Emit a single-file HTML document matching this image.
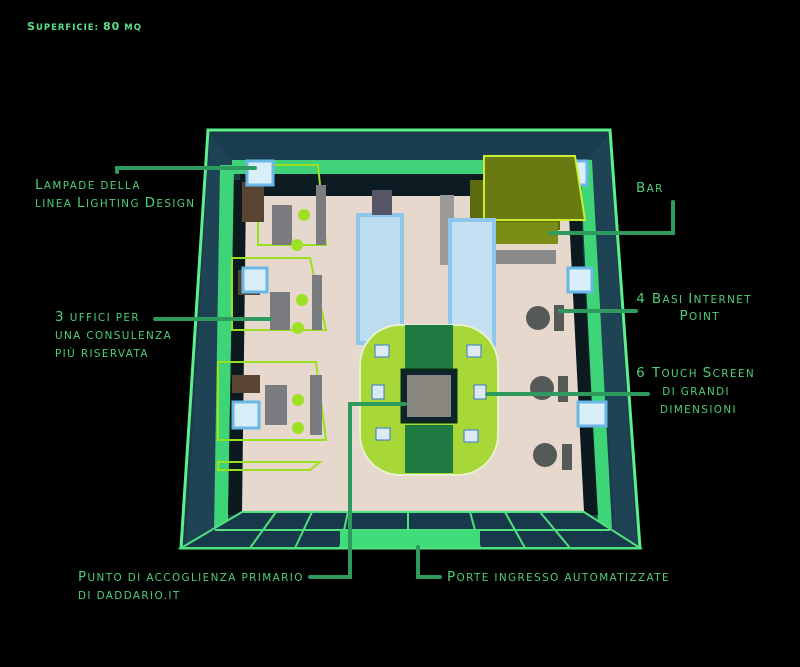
<!DOCTYPE html>
<html><head><meta charset="utf-8"><style>
html,body{margin:0;padding:0;background:#000;}
svg{display:block}
.t{font-family:"DejaVu Sans","Liberation Sans",sans-serif;fill:#4fcf78;font-size:10.4px;letter-spacing:1.4px}
.t .c{font-size:13.5px}
</style></head><body>
<svg width="800" height="667" viewBox="0 0 800 667" xmlns="http://www.w3.org/2000/svg">
<rect width="800" height="667" fill="#000"/>
<text x="27" y="30" class="t" style="font-weight:bold;font-size:8.5px;fill:#5be08a;letter-spacing:1px"><tspan style="font-size:11px">S</tspan>UPERFICIE: <tspan style="font-size:11px">80</tspan> MQ</text>

<polygon points="208,130 610,130 640,548 181,548" fill="#1c3a48" stroke="#5cf08a" stroke-width="3"/>
<polygon points="212,134 606,134 588,160 232,160" fill="#1a3e50"/>
<rect x="232" y="160" width="356" height="14" fill="#3fd27a"/>
<rect x="240" y="174" width="338" height="22" fill="#0d1c22"/>
<polygon points="210,134 232,160 222,530 186,546" fill="#1d4355"/>
<polygon points="220,165 234,165 228,525 214,530" fill="#3ed478"/>
<polygon points="234,180 246,180 242,515 228,515" fill="#0c1a20"/>
<polygon points="608,134 588,160 615,530 637,546" fill="#1d4355"/>
<polygon points="580,160 592,160 612,528 598,528" fill="#3ed478"/>
<polygon points="568,196 580,196 598,515 584,515" fill="#0c1a20"/>
<polygon points="246,196 568,196 584,512 242,512" fill="#e6d8cc"/>
<polygon points="242,512 584,512 640,548 181,548" fill="#17394a" stroke="#4fe080" stroke-width="2"/>
<g stroke="#4fe080" stroke-width="2">
<line x1="215" y1="530" x2="610" y2="530"/>
<line x1="276" y1="512" x2="250" y2="548"/><line x1="312" y1="512" x2="295" y2="548"/>
<line x1="348" y1="512" x2="340" y2="548"/><line x1="408" y1="512" x2="408" y2="530"/>
<line x1="470" y1="512" x2="480" y2="548"/><line x1="505" y1="512" x2="525" y2="548"/>
<line x1="540" y1="512" x2="570" y2="548"/>
</g>
<rect x="340" y="530" width="140" height="17" fill="#3fdc7a"/>

<g fill="none" stroke="#9ae020" stroke-width="2">
<polygon points="258,165 318,165 326,245 258,245"/>
<polygon points="232,258 310,258 326,330 232,330"/>
<polygon points="218,362 316,362 326,440 218,440"/>
<polygon points="218,462 320,462 310,470 218,470"/>
</g>
<g fill="#7a7c80">
<rect x="272" y="205" width="20" height="40"/>
<rect x="270" y="292" width="20" height="38"/>
<rect x="265" y="385" width="22" height="40"/>
<rect x="316" y="185" width="10" height="60"/><rect x="312" y="275" width="10" height="55"/><rect x="310" y="375" width="12" height="60"/>
</g>
<g fill="#9ee024">
<circle cx="304" cy="215" r="6"/><circle cx="297" cy="245" r="6"/>
<circle cx="302" cy="300" r="6"/><circle cx="298" cy="328" r="6"/>
<circle cx="298" cy="400" r="6"/><circle cx="298" cy="428" r="6"/>
</g>
<g fill="#5a4533"><rect x="242" y="182" width="22" height="40"/><rect x="238" y="270" width="22" height="25"/><rect x="232" y="375" width="28" height="18"/></g>

<g fill="#d8eef8" stroke="#6ab8e8" stroke-width="3">
<rect x="247" y="161" width="26" height="24"/>
<rect x="243" y="268" width="24" height="24"/>
<rect x="233" y="402" width="26" height="26"/>
<rect x="563" y="161" width="24" height="24"/>
<rect x="568" y="268" width="24" height="24"/>
<rect x="578" y="402" width="28" height="24"/>
</g>

<rect x="470" y="180" width="90" height="50" fill="#5e6a10"/>
<polygon points="484,156 575,156 585,220 484,220" fill="#6a7a12" stroke="#c8f030" stroke-width="2"/>
<rect x="478" y="222" width="80" height="22" fill="#7a8e16"/>
<rect x="440" y="195" width="14" height="70" fill="#9a9a9a"/>
<rect x="480" y="250" width="76" height="14" fill="#8a8a8a"/>

<rect x="358" y="215" width="44" height="128" fill="#bcdcf0" stroke="#8ec6ec" stroke-width="4"/>
<rect x="450" y="220" width="44" height="125" fill="#c4e0f2" stroke="#8ec6ec" stroke-width="4"/>
<rect x="372" y="190" width="20" height="25" fill="#556"/>

<rect x="360" y="325" width="138" height="150" rx="40" fill="#a8d838" stroke="#e8f0d0" stroke-width="2"/>
<rect x="405" y="325" width="48" height="46" fill="#1f7a42"/>
<rect x="405" y="425" width="48" height="48" fill="#1f7a42"/>
<rect x="402" y="370" width="54" height="52" fill="#123" stroke="#0a2a18" stroke-width="3"/>
<rect x="407" y="375" width="44" height="42" fill="#8a8680"/>
<g fill="#ddeaf4" stroke="#3377cc" stroke-width="1">
<rect x="375" y="345" width="14" height="12"/><rect x="467" y="345" width="14" height="12"/>
<rect x="372" y="385" width="12" height="14"/><rect x="474" y="385" width="12" height="14"/>
<rect x="376" y="428" width="14" height="12"/><rect x="464" y="430" width="14" height="12"/>
</g>

<g fill="#555a58">
<circle cx="538" cy="318" r="12"/><circle cx="542" cy="388" r="12"/><circle cx="545" cy="455" r="12"/>
<rect x="554" y="305" width="10" height="26"/><rect x="558" y="376" width="10" height="26"/><rect x="562" y="444" width="10" height="26"/>
</g>

<g stroke="#2f9a5e" stroke-width="4" fill="none" stroke-linecap="round">
<polyline points="117,172 117,168 255,168"/>
<line x1="155" y1="319" x2="270" y2="319"/>
<polyline points="673,202 673,233 550,233"/>
<line x1="636" y1="311" x2="560" y2="311"/>
<line x1="648" y1="394" x2="487" y2="394"/>
<polyline points="310,577 350,577 350,404 405,404"/>
<polyline points="440,577 418,577 418,547"/>
</g>

<text x="35" y="189" class="t"><tspan class="c">L</tspan>AMPADE DELLA</text>
<text x="35" y="207" class="t">LINEA <tspan class="c">L</tspan>IGHTING <tspan class="c">D</tspan>ESIGN</text>
<text x="55" y="321" class="t"><tspan class="c">3</tspan> UFFICI PER</text>
<text x="55" y="339" class="t">UNA CONSULENZA</text>
<text x="55" y="357" class="t">PIÙ RISERVATA</text>
<text x="636" y="192" class="t"><tspan class="c">B</tspan>AR</text>
<text x="752" y="303" class="t" text-anchor="end"><tspan class="c">4 B</tspan>ASI <tspan class="c">I</tspan>NTERNET</text>
<text x="720" y="320" class="t" text-anchor="end"><tspan class="c">P</tspan>OINT</text>
<text x="755" y="377" class="t" text-anchor="end"><tspan class="c">6 T</tspan>OUCH <tspan class="c">S</tspan>CREEN</text>
<text x="730" y="395" class="t" text-anchor="end">DI GRANDI</text>
<text x="737" y="413" class="t" text-anchor="end">DIMENSIONI</text>
<text x="78" y="581" class="t"><tspan class="c">P</tspan>UNTO DI ACCOGLIENZA PRIMARIO</text>
<text x="78" y="599" class="t">DI DADDARIO.IT</text>
<text x="447" y="581" class="t"><tspan class="c">P</tspan>ORTE INGRESSO AUTOMATIZZATE</text>
</svg>
</body></html>
